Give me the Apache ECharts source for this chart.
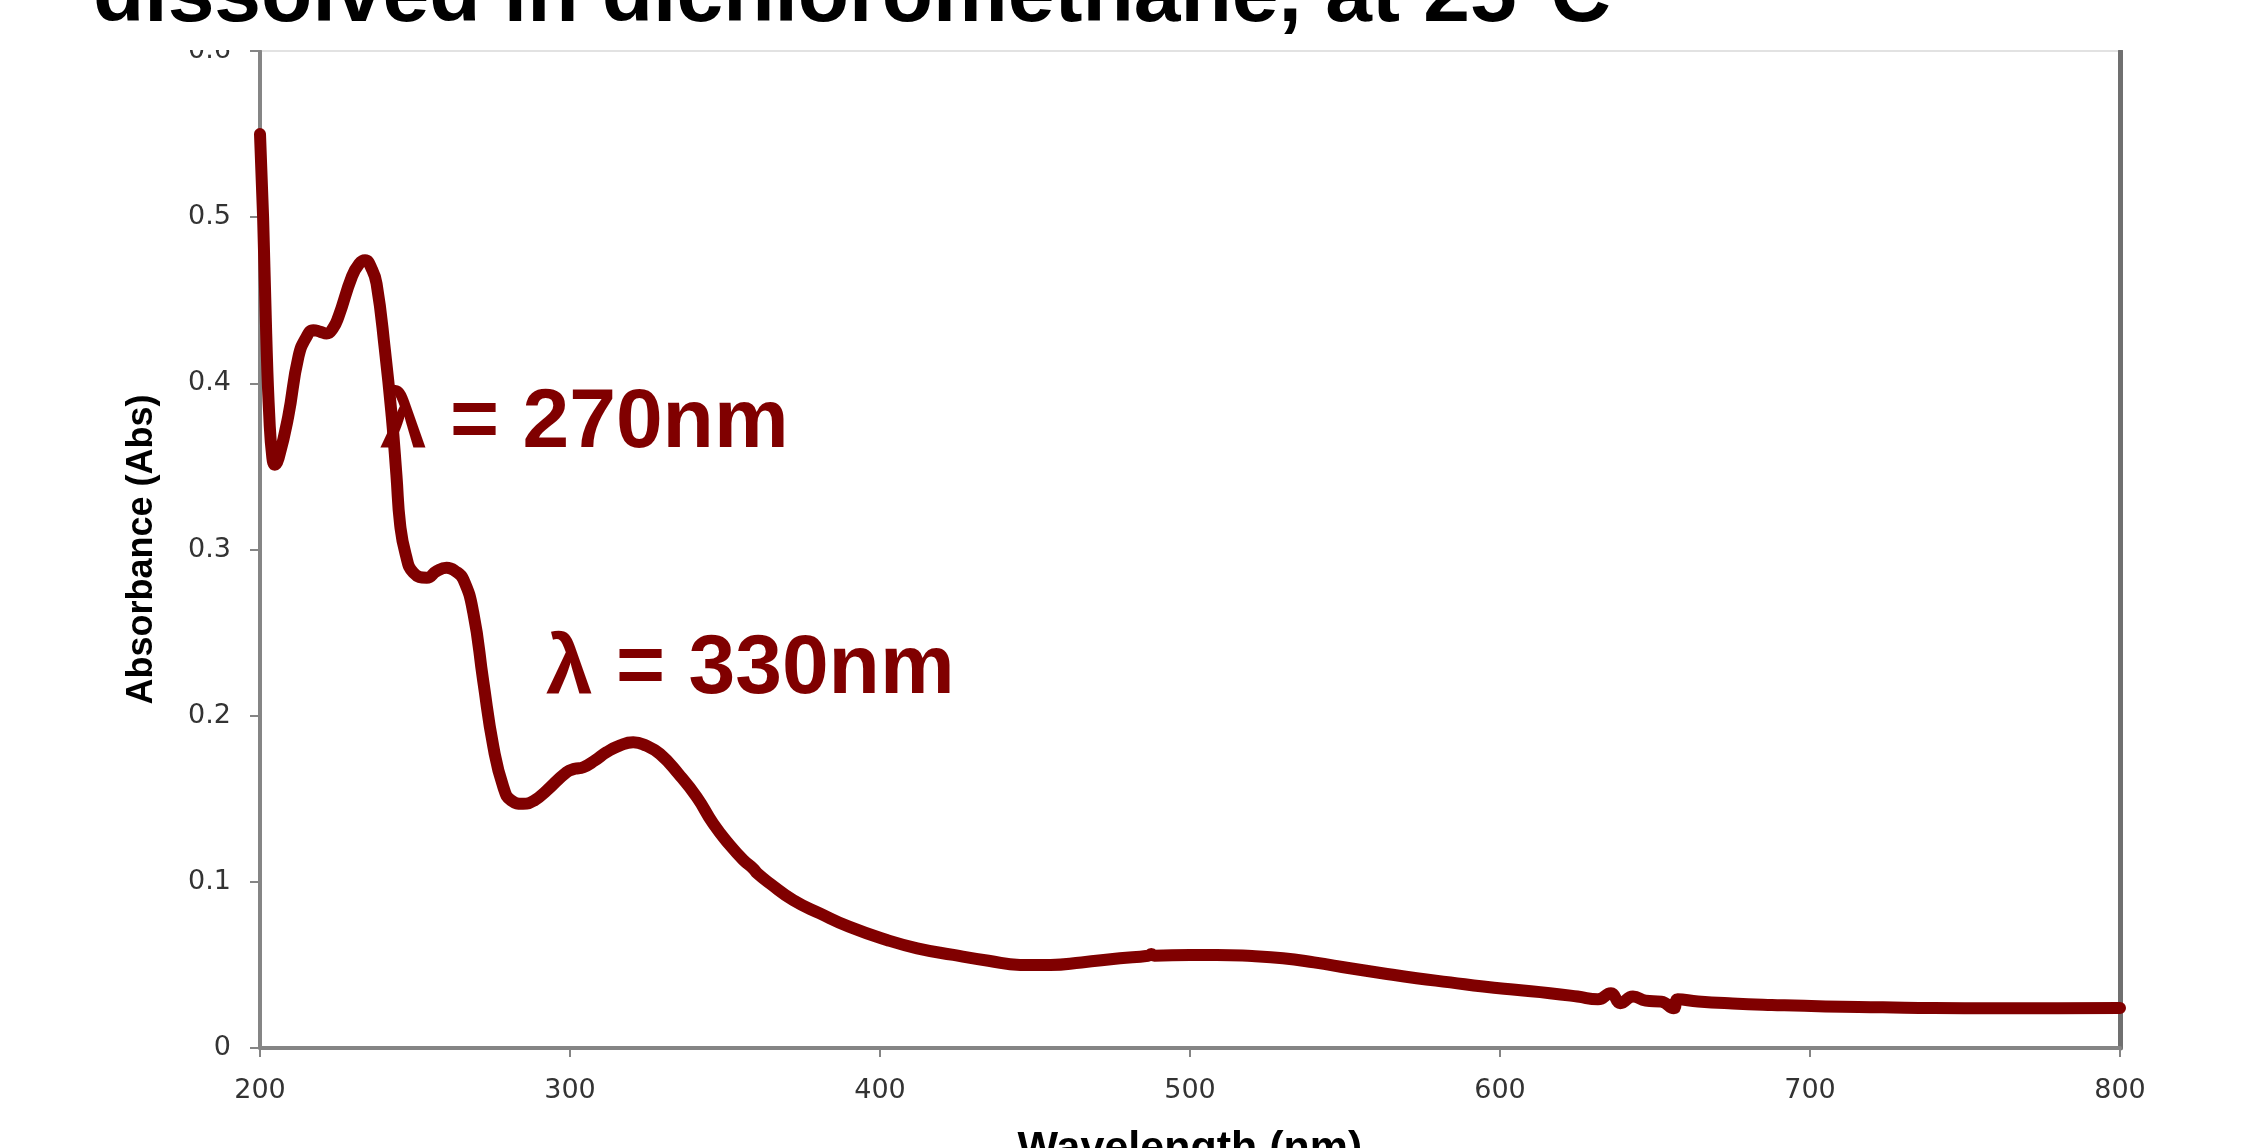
<!DOCTYPE html>
<html>
<head>
<meta charset="utf-8">
<script src="https://cdn.jsdelivr.net/npm/echarts@6/dist/echarts.min.js"></script>
<style>
  html, body { margin: 0; padding: 0; background: #fff; }
  #chart { width: 2250px; height: 1148px; }
</style>
</head>
<body>
<div id="chart"></div>
<script>
// UV-vis spectrum
const wavelength = [
  200, 201, 202, 203, 204, 204.8, 206, 209.1, 212.4, 215, 217.2, 219.5, 221.5, 223.5, 225.3,
  229.6, 232, 233.9, 236, 237.6, 240.3, 242.5, 244, 245.2, 247, 249.5, 253.8, 257, 260.2, 263,
  265.6, 268.8, 272, 275.3, 278.5, 281, 284.9, 288.5, 292.5, 298.9, 301.5, 304.3, 308, 311.8,
  316, 320.4, 324.5, 329, 335, 340.9, 346.2, 351.6, 356, 359.1, 360.5, 364.5, 372, 380.6, 390,
  402.2, 412, 423.7, 435, 445.2, 455, 465, 477.4, 486.5, 487.5, 488.5, 500, 508.6, 520, 530,
  540, 551.6, 562, 573.1, 584, 594.6, 605, 616.1, 625, 631.6, 635.8, 638.8, 642.9, 647, 652,
  656.1, 657.3, 663.9, 675, 687.7, 705, 723.5, 740, 759.4, 780, 800
];
const absorbance = [
  0.55, 0.50, 0.43, 0.38, 0.355, 0.351, 0.355, 0.380, 0.416, 0.428, 0.432, 0.431, 0.430, 0.433, 0.440,
  0.464, 0.472, 0.474, 0.469, 0.460, 0.420, 0.380, 0.345, 0.315, 0.297, 0.286, 0.283, 0.287, 0.289, 0.287,
  0.282, 0.262, 0.221, 0.181, 0.157, 0.149, 0.147, 0.149, 0.155, 0.166, 0.168, 0.169, 0.173, 0.178,
  0.182, 0.184, 0.182, 0.177, 0.165, 0.151, 0.135, 0.122, 0.113, 0.108, 0.105, 0.099, 0.089, 0.081, 0.073,
  0.065, 0.060, 0.056, 0.0525, 0.050, 0.050, 0.0515, 0.054, 0.0555, 0.0565, 0.0555, 0.056, 0.056, 0.0553, 0.054,
  0.0515, 0.048, 0.045, 0.042, 0.0395, 0.037, 0.035, 0.033, 0.031, 0.0293, 0.033, 0.027, 0.031, 0.0285, 0.0279,
  0.0239, 0.0293, 0.028, 0.0268, 0.0259, 0.025, 0.0245, 0.024, 0.0239, 0.0239, 0.024
];
const titleText = 'dissolved in dichloromethane, at 25°C';
const peakLabels = ['λ = 270nm', 'λ = 330nm'];

const chart = echarts.init(document.getElementById('chart'));

const points = wavelength.map((w, i) => [w, absorbance[i]]);
const darkRed = '#800000';
const axisGray = '#858585';

const opt = {
  backgroundColor: '#fff',
  animation: false,
  grid: {
    left: 260,
    right: 130,
    top: 51,
    bottom: 100,
    outerBoundsMode: 'none', // the axis name is meant to run off the bottom edge
    show: true,
    borderColor: '#e2e2e2',
    borderWidth: 2
  },
  xAxis: {
    type: 'value',
    min: 200,
    max: 800,
    interval: 100,
    name: 'Wavelength (nm)',
    nameLocation: 'middle',
    nameGap: 80,
    nameTextStyle: {
      fontFamily: 'Liberation Sans',
      fontWeight: 'bold',
      fontSize: 43,
      lineHeight: 43,
      color: '#000'
    },
    axisLine: { onZero: false, lineStyle: { color: axisGray, width: 4 } },
    axisTick: { length: 9, lineStyle: { color: axisGray, width: 2 } },
    axisLabel: {
      margin: 29,
      fontFamily: 'DejaVu Sans',
      fontSize: 27,
      color: '#333'
    },
    splitLine: { show: false }
  },
  yAxis: [
    {
      type: 'value',
      min: 0,
      max: 0.6,
      interval: 0.1,
      name: 'Absorbance (Abs)',
      nameLocation: 'middle',
      nameGap: 100,
      nameTextStyle: {
        fontFamily: 'Liberation Sans',
        fontWeight: 'bold',
        fontSize: 36,
        lineHeight: 36,
        color: '#000'
      },
      axisLine: { show: true, lineStyle: { color: axisGray, width: 4 } },
      axisTick: { show: true, length: 10, lineStyle: { color: axisGray, width: 2 } },
      axisLabel: {
        margin: 29,
        fontFamily: 'DejaVu Sans',
        fontSize: 27,
        color: '#333'
      },
      splitLine: { show: false }
    },
    {
      // right frame of the plot area
      type: 'value',
      position: 'right',
      min: 0,
      max: 0.6,
      axisLine: { show: true, lineStyle: { color: '#707070', width: 5 } },
      axisTick: { show: false },
      axisLabel: { show: false },
      splitLine: { show: false }
    }
  ],
  series: [
    {
      type: 'line',
      data: points,
      showSymbol: false,
      smooth: 0.5,
      z: 5,
      lineStyle: { color: darkRed, width: 12, cap: 'round', join: 'round' }
    }
  ],
  graphic: [
    {
      // slide title box, its white fill hides the top of the 0.6 label
      type: 'rect',
      z: 90,
      shape: { x: 0, y: 0, width: 2250, height: 50 },
      style: { fill: '#fff' }
    },
    {
      type: 'text',
      z: 100,
      x: 93,
      y: -2,
      style: {
        text: titleText,
        font: 'bold 84px "Liberation Sans"',
        fill: '#000',
        verticalAlign: 'middle'
      }
    },
    {
      type: 'text',
      z: 100,
      x: 380,
      y: 424,
      style: {
        text: peakLabels[0],
        font: 'bold 84px "Liberation Sans"',
        fill: darkRed,
        verticalAlign: 'middle'
      }
    },
    {
      type: 'text',
      z: 100,
      x: 546,
      y: 670,
      style: {
        text: peakLabels[1],
        font: 'bold 84px "Liberation Sans"',
        fill: darkRed,
        verticalAlign: 'middle'
      }
    }
  ]
};

chart.setOption(opt);
</script>
</body>
</html>
